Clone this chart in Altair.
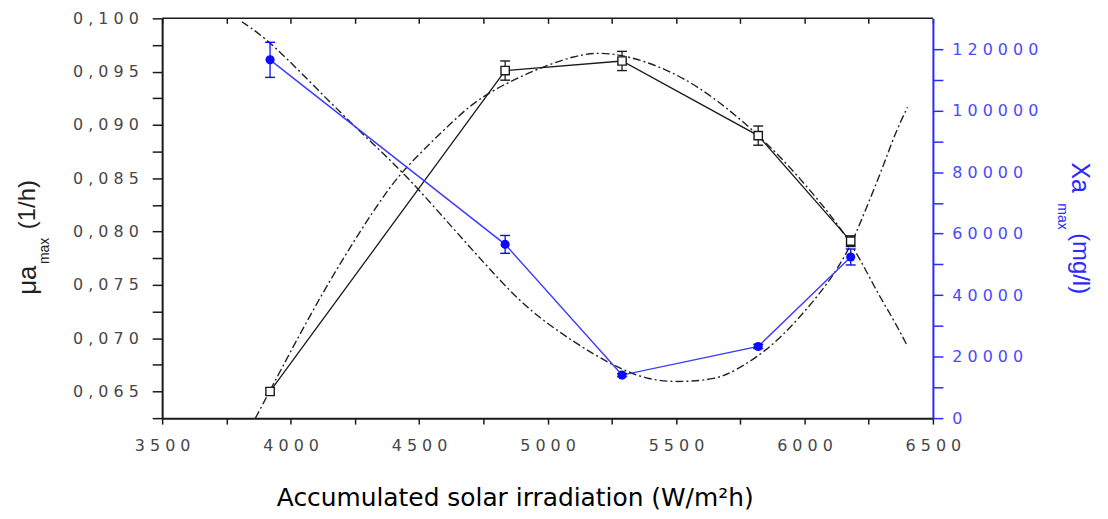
import altair as alt
import pandas as pd

# ---------------- data ----------------
irr = [3920, 4835, 5290, 5820, 6180]                     # accumulated solar irradiation (W/m2h)
mu = [0.0650, 0.0951, 0.0960, 0.0890, 0.0791]            # mu_a max (1/h), left axis
mu_err = [0.0003, 0.0009, 0.0009, 0.0009, 0.0005]
xa = [116500, 56500, 14000, 23300, 52400]                # Xa max (mg/l), right axis
xa_err = [5700, 2900, 500, 700, 2600]

# dash-dot fitted curves
fit_mu_x = [3863, 3920, 4080, 4224, 4378, 4467, 4638, 4727, 4882, 5114, 5241,
            5373, 5578, 5840, 6031, 6185, 6275, 6346, 6400]
fit_mu_y = [0.0625, 0.0651, 0.0724, 0.0783, 0.0840, 0.0865, 0.0905, 0.0924, 0.0945,
            0.0967, 0.0968, 0.0961, 0.0940, 0.0888, 0.0837, 0.0790, 0.0746, 0.0718, 0.0693]
fit_xa_x = [3810, 3920, 4158, 4327, 4456, 4638, 4765, 4920, 5102, 5257, 5396, 5528,
            5656, 5721, 5849, 5977, 6108, 6178, 6210, 6301, 6352, 6401]
fit_xa_y = [128900, 122700, 102200, 88700, 78400, 61200, 49300, 35400, 24700, 16900,
            12200, 11700, 12700, 15000, 21500, 32100, 45500, 55800, 62000, 80600, 92500, 101100]

# tick positions
x_ticks = [3500, 3750, 4000, 4250, 4500, 4750, 5000, 5250, 5500, 5750, 6000, 6250, 6500]
mu_ticks = [0.0625, 0.065, 0.0675, 0.07, 0.0725, 0.075, 0.0775, 0.08, 0.0825, 0.085,
            0.0875, 0.09, 0.0925, 0.095, 0.0975, 0.1]
xa_ticks = [0, 10000, 20000, 30000, 40000, 50000, 60000, 70000, 80000, 90000,
            100000, 110000, 120000]

x_title = "Accumulated solar irradiation (W/m²h)"
left_title = ["μa", "max", "(1/h)"]
right_title = ["Xa", "max", "(mg/l)"]

# ---------------- styling ----------------
W, H = 775, 402
BLACK = "#1a1a1a"
BLUE_LINE = "#3a3aff"
BLUE_PT = "#0a0aff"
BLUE_AX = "#2a2aff"
BLUE_LBL = "#4a4aff"
GRAY = "#474747"
DASHDOT = [8, 3, 2, 3]
SPACED = "regexp('(.)(?=.)', 'g')"

xs = alt.Scale(domain=[3500, 6500], nice=False, zero=False)
mus = alt.Scale(domain=[0.0625, 0.100], nice=False, zero=False)
xas = alt.Scale(domain=[0, 130000], nice=False, zero=False)

df_mu = pd.DataFrame({"x": irr, "y": mu, "e": mu_err})
df_xa = pd.DataFrame({"x": irr, "y": xa, "e": xa_err})
df_fmu = pd.DataFrame({"x": fit_mu_x, "y": fit_mu_y})
df_fxa = pd.DataFrame({"x": fit_xa_x, "y": fit_xa_y})

bottom_axis = alt.Axis(
    orient="bottom", values=x_ticks, title=None, grid=False,
    labelExpr=f"datum.value % 500 === 0 ? replace(format(datum.value, 'd'), {SPACED}, '$1 ') : ''",
    tickSize=6, tickWidth=1.5, tickColor=BLACK, domainColor=BLACK, domainWidth=2,
    labelFont="DejaVu Sans", labelFontSize=16, labelColor=GRAY, labelPadding=14,
    labelFlush=False, labelOverlap=False)
top_axis = alt.Axis(
    orient="top", values=x_ticks, title=None, grid=False, labels=False, domain=False,
    tickSize=5, tickWidth=1.5, tickColor=BLACK, offset=-5)
left_axis = alt.Axis(
    orient="left", values=mu_ticks, title=None, grid=False,
    labelExpr=("abs(datum.value * 200 - round(datum.value * 200)) < 0.000001 ? "
               f"replace(replace(format(datum.value, '.3f'), '.', ','), {SPACED}, '$1 ') : ''"),
    tickSize=10, tickWidth=1.5, tickColor=BLACK, domainColor=BLACK, domainWidth=2,
    labelFont="DejaVu Sans", labelFontSize=16, labelColor=GRAY, labelPadding=14,
    labelFlush=False, labelOverlap=False)
right_axis = alt.Axis(
    orient="right", values=xa_ticks, title=None, grid=False,
    labelExpr=f"datum.value % 20000 === 0 ? replace(format(datum.value, 'd'), {SPACED}, '$1 ') : ''",
    tickSize=10, tickWidth=1.5, tickColor=BLUE_AX, domainColor=BLUE_AX, domainWidth=2,
    labelFont="DejaVu Sans", labelFontSize=16, labelColor=BLUE_LBL, labelPadding=9,
    labelFlush=False, labelOverlap=False)

xnone = alt.X("x:Q", scale=xs, axis=None)


def y_of(field, scale, axis=None):
    return alt.Y(field, scale=scale, axis=axis)


# ---- mu series (black, left axis) ----
fit_mu = alt.Chart(df_fmu).mark_line(
    interpolate="basis", strokeDash=DASHDOT, color="#222222", strokeWidth=1.4, clip=True
).encode(x=alt.X("x:Q", scale=xs, axis=top_axis), y=y_of("y:Q", mus))

line_mu = alt.Chart(df_mu).mark_line(color=BLACK, strokeWidth=1.3).encode(
    x=alt.X("x:Q", scale=xs, axis=bottom_axis), y=y_of("y:Q", mus, left_axis))

err_mu = alt.Chart(df_mu).transform_calculate(
    lo="datum.y - datum.e", hi="datum.y + datum.e"
).mark_rule(color=BLACK, strokeWidth=1.3).encode(
    x=xnone, y=y_of("lo:Q", mus), y2="hi:Q")

caps_mu = alt.Chart(df_mu).transform_calculate(
    lo="datum.y - datum.e", hi="datum.y + datum.e"
).transform_fold(["lo", "hi"], as_=["k", "v"]).mark_tick(
    orient="horizontal", size=10, thickness=1.4, color=BLACK, opacity=1
).encode(x=xnone, y=y_of("v:Q", mus))

pts_mu = alt.Chart(df_mu).mark_point(
    shape="square", size=70, filled=True, fill="white", stroke=BLACK, strokeWidth=1.4, opacity=1
).encode(x=xnone, y=y_of("y:Q", mus))

# ---- Xa series (blue, right axis) ----
fit_xa = alt.Chart(df_fxa).mark_line(
    interpolate="basis", strokeDash=DASHDOT, color="#222222", strokeWidth=1.4, clip=True
).encode(x=xnone, y=y_of("y:Q", xas))

line_xa = alt.Chart(df_xa).mark_line(color=BLUE_LINE, strokeWidth=1.4).encode(
    x=xnone, y=y_of("y:Q", xas, right_axis))

err_xa = alt.Chart(df_xa).transform_calculate(
    lo="datum.y - datum.e", hi="datum.y + datum.e"
).mark_rule(color=BLUE_PT, strokeWidth=1.3).encode(
    x=xnone, y=y_of("lo:Q", xas), y2="hi:Q")

caps_xa = alt.Chart(df_xa).transform_calculate(
    lo="datum.y - datum.e", hi="datum.y + datum.e"
).transform_fold(["lo", "hi"], as_=["k", "v"]).mark_tick(
    orient="horizontal", size=10, thickness=1.4, color=BLUE_PT, opacity=1
).encode(x=xnone, y=y_of("v:Q", xas))

pts_xa = alt.Chart(df_xa).mark_point(
    shape="circle", size=85, filled=True, color=BLUE_PT, opacity=1
).encode(x=xnone, y=y_of("y:Q", xas))

# ---- frame top line ----
one = pd.DataFrame({"k": [0]})
top_rule = alt.Chart(one).mark_rule(color=BLACK, strokeWidth=1.5).encode(
    x=alt.value(0), x2=alt.value(W), y=alt.value(0))


# ---- titles as text marks ----
def txt(text, x, y, size, angle, color, font="Liberation Sans", align="left"):
    return alt.Chart(pd.DataFrame({"t": [text]})).mark_text(
        font=font, fontSize=size, angle=angle, color=color, align=align, baseline="alphabetic"
    ).encode(x=alt.value(x), y=alt.value(y), text="t:N")


titles = [
    txt(x_title, 355, 490, 25, 0, "black", font="DejaVu Sans", align="center"),
    txt(left_title[0], -127, 278, 26, 270, "#222222"),
    txt(left_title[1], -114, 247, 14, 270, "#222222"),
    txt(left_title[2], -128, 212, 24, 270, "#222222"),
    txt(right_title[0], 915, 145, 25, 90, "#2a2aff"),
    txt(right_title[1], 901, 186, 14, 90, "#2a2aff"),
    txt(right_title[2], 916, 216, 24, 90, "#2a2aff"),
]

chart = alt.layer(
    fit_mu, fit_xa, line_mu, err_mu, caps_mu, pts_mu,
    line_xa, err_xa, caps_xa, pts_xa, top_rule, *titles
).resolve_scale(y="independent").resolve_axis(x="independent").properties(
    width=W, height=H,
    padding={"left": 155, "top": 9, "right": 168, "bottom": 96},
    autosize=alt.AutoSizeParams(type="none"),
).configure_view(stroke=None).configure_axis(grid=False)

chart.save("out.html", embed_options={"renderer": "svg", "actions": False})
